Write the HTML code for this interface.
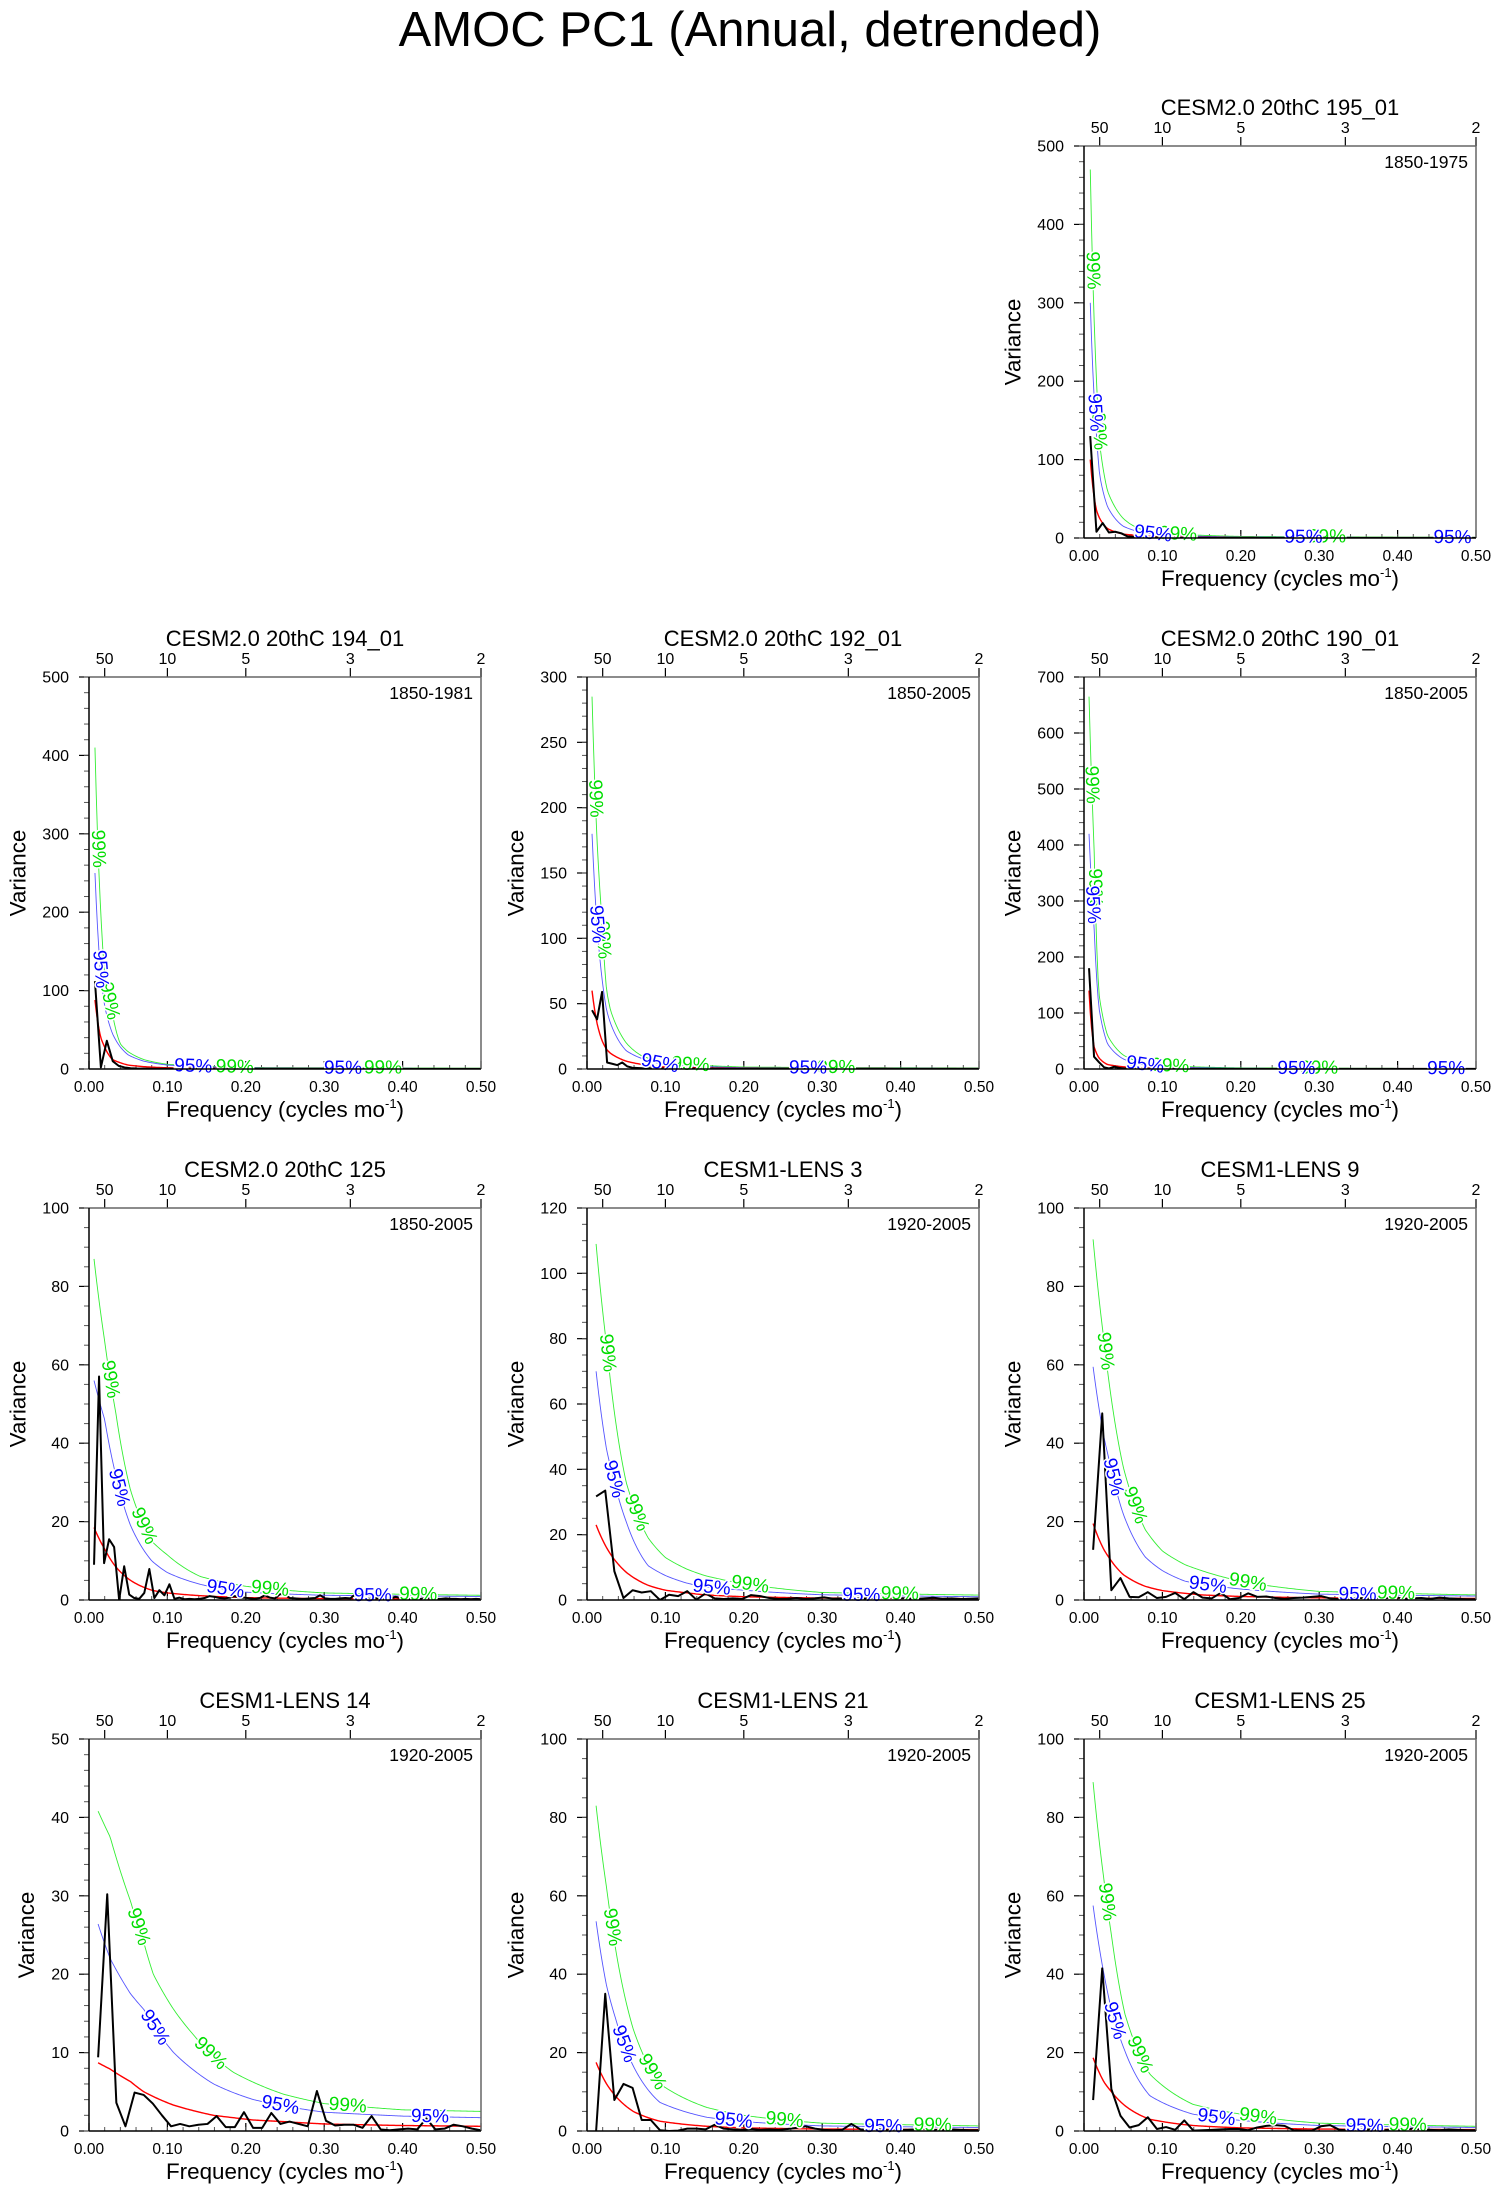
<!DOCTYPE html>
<html>
<head>
<meta charset="utf-8">
<style>
  html,body{margin:0;padding:0;background:#fff;}
  svg{display:block;font-family:"Liberation Sans",Arial,sans-serif;}
</style>
</head>
<body>
<svg id="fig" width="1500" height="2201" viewBox="0 0 1500 2201" xmlns="http://www.w3.org/2000/svg">
  <rect x="0" y="0" width="1500" height="2201" fill="#fff"/>
  <text x="750" y="46" font-size="49" text-anchor="middle" fill="#000">AMOC PC1 (Annual, detrended)</text>
</svg>
<script>
// ---------- data ----------
const p195_black = [130,8,19,7,8,6,2,1.5,1,1,0.8,0.6,0.5,0.5,0.4,0.4,0.3,0.3,0.3,0.3,0.3,0.2,0.2,0.2,0.2,0.2,0.2,0.2,0.2,0.2,0.2,0.2,0.2,0.2,0.2,0.2,0.2,0.2,0.2,0.2,0.2,0.2,0.2,0.2,0.2,0.2,0.2,0.2,0.2,0.2,0.2,0.2,0.2,0.2,0.2,0.2,0.2,0.2,0.2,0.2,0.2,0.2,0.2];
const p195_cf = [0.008,0.016,0.02,0.03,0.05,0.07,0.1,0.2,0.5];
const p195_red = [100,35,25,12,5,3,1.5,0.5,0.2];
const p195_c95 = [300,130,80,40,15,8,4,1.2,0.5];
const p195_c99 = [470,200,120,60,25,12,6,2,0.8];
const p195_lab95 = [0.014,0.088,0.28,0.47];
const p195_lab99 = [0.011,0.019,0.12,0.31];

const p194_black = [112,2,36,10,4,2,1,0.6,0.5,0.5,0.4,0.4,0.3,0.3,0.3,0.3,0.3,0.3,0.2,0.2,0.2,0.2,0.2,0.2,0.2,0.2,0.2,0.2,0.2,0.2,0.2,0.2,0.2,0.2,0.2,0.2,0.2,0.2,0.2,0.2,0.2,0.2,0.2,0.2,0.2,0.2,0.2,0.2,0.2,0.2,0.2,0.2,0.2,0.2,0.2,0.2,0.2,0.2,0.2,0.2,0.2,0.2,0.2,0.2,0.2,0.2];
const p194_cf = [0.0076,0.015,0.02,0.03,0.04,0.05,0.07,0.1,0.2,0.5];
const p194_red = [88,40,28,12,8,5,3,1.5,0.6,0.3];
const p194_c95 = [250,120,80,45,28,18,10,5,1.5,0.6];
const p194_c99 = [410,200,120,70,32,22,12,6,2,1];
const p194_lab95 = [0.0144,0.133,0.324];
const p194_lab99 = [0.0115,0.026,0.186,0.375];

const p192_black = [45,38,59,5,4,3,5,2,1,0.8,0.6,0.5,0.5,0.4,0.4,0.4,0.3,0.3,0.3,0.3,0.3,0.3,0.3,0.3,0.3,0.2,0.2,0.2,0.2,0.2,0.2,0.2,0.2,0.2,0.2,0.2,0.2,0.2,0.2,0.2,0.2,0.2,0.2,0.2,0.2,0.2,0.2,0.2,0.2,0.2,0.2,0.2,0.2,0.2,0.2,0.2,0.2,0.2,0.2,0.2,0.2,0.2,0.2,0.2,0.2,0.2,0.2,0.2,0.2,0.2,0.2,0.2,0.2,0.2,0.2,0.2,0.2,0.2];
const p192_cf = [0.0064,0.0128,0.019,0.025,0.03,0.05,0.07,0.1,0.2,0.5];
const p192_red = [60,35,22,15,12,6,3.5,1.5,0.5,0.2];
const p192_c95 = [180,110,70,45,35,14,8,3.5,1,0.4];
const p192_c99 = [285,175,115,60,45,20,10,5,1.5,0.7];
const p192_lab95 = [0.0127,0.093,0.282];
const p192_lab99 = [0.0106,0.0204,0.132,0.318];

const p190_black = [180,22,12,3,1,4,2,1,0.8,0.6,0.5,0.5,0.4,0.4,0.4,0.3,0.3,0.3,0.3,0.3,0.3,0.3,0.3,0.3,0.3,0.3,0.3,0.3,0.3,0.3,0.3,0.3,0.3,0.3,0.3,0.3,0.3,0.3,0.3,0.3,0.3,0.3,0.3,0.3,0.3,0.3,0.3,0.3,0.3,0.3,0.3,0.3,0.3,0.3,0.3,0.3,0.3,0.3,0.3,0.3,0.3,0.3,0.3,0.3,0.3,0.3,0.3,0.3,0.3,0.3,0.3,0.3,0.3,0.3,0.3,0.3,0.3,0.3];
const p190_cf = [0.0064,0.0128,0.019,0.03,0.05,0.07,0.1,0.2,0.5];
const p190_red = [140,40,20,8,4,2.5,1,0.4,0.2];
const p190_c95 = [420,255,110,45,18,9,4,1.2,0.5];
const p190_c99 = [665,400,135,60,25,13,6,2,0.8];
const p190_lab95 = [0.011,0.078,0.271,0.462];
const p190_lab99 = [0.0098,0.014,0.11,0.30];

const p125_black = [9,57,9.4,15.5,13.5,0,8.6,1.4,0.5,0.3,1.8,7.9,0.5,2.5,1.2,4,0.3,0.6,0.2,0.3,0.2,0.3,0.5,1,0.8,0.5,0.4,0.6,1,0.5,0.6,0.4,0.3,0.5,1.2,0.6,0.4,1.5,1.3,0.5,0.4,0.3,0.3,0.4,0.5,1.2,0.4,0.3,0.3,0.4,0.5,0.4,1.5,0.8,0.4,0.3,0.5,0.4,0.3,0.4,0.8,0.5,0.3,0.4,0.3,0.3,0.5,0.4,0.3,0.3,0.4,0.3,0.3,0.2,0.3,0.2,0.3,0.2];
const p125_cf = [0.0064,0.02,0.034,0.053,0.08,0.1,0.142,0.2,0.3,0.5];
const p125_red = [18.5,13,8.5,5,2.5,1.8,1.1,0.6,0.35,0.25];
const p125_c95 = [56,46,32,19,10,7,4,2,1.2,0.9];
const p125_c99 = [87,66,48,28,15,11.5,6,3.5,1.8,1.2];
const p125_lab95 = [0.038,0.174,0.362];
const p125_lab99 = [0.027,0.07,0.231,0.42];

const l3_black = [31.7,33.5,8.8,0.6,3,2.3,2.7,0,1.6,1.2,2.7,0.1,2,0.5,0.3,0.5,0.3,1.5,1.2,0.6,0.3,0.4,0.6,0.3,0.5,0.8,0.4,0.5,0.3,0.5,0.4,1.2,0.8,0.6,0.5,0.3,0.5,0.7,0.4,0.5,0.3,0.4,0.5];
const l3_cf = [0.0116,0.025,0.033,0.05,0.078,0.1,0.127,0.15,0.2,0.3,0.5];
const l3_red = [23,16,13,8.5,4.5,3,2.2,1.6,1,0.6,0.4];
const l3_c95 = [70,46,38,24,10.5,7.5,5.2,4,3,1.6,1];
const l3_c99 = [109,78,61,36,19,13,9.5,7.5,5,2.3,1.5];
const l3_lab95 = [0.034,0.159,0.35];
const l3_lab99 = [0.026,0.063,0.208,0.399];

const l9_black = [12.8,47.6,2.5,5.6,0.8,0.7,2,0.5,0.8,1.8,0.2,2,0.6,0.4,1.8,0.2,0.5,1.7,0.8,0.9,0.5,0.3,0.5,0.6,0.8,1,0.4,0.2,0.3,0.6,0.3,0.5,0.4,0.8,0.3,0.4,0.5,0.3,0.6,0.4,0.3,0.2,0.2];
const l9_cf = [0.0116,0.025,0.033,0.05,0.078,0.1,0.129,0.15,0.2,0.3,0.5];
const l9_red = [19.5,13,10.5,6.5,3.5,2.4,1.7,1.3,0.9,0.55,0.4];
const l9_c95 = [59.5,42,35,22,11,7.5,4.8,4,2.8,1.5,1];
const l9_c99 = [92,67,54,34,18,12.5,9,7.5,4.8,2.2,1.3];
const l9_lab95 = [0.037,0.158,0.349];
const l9_lab99 = [0.027,0.065,0.209,0.398];

const l14_black = [9.4,30.2,3.6,0.6,4.9,4.6,3.5,2,0.6,0.9,0.6,0.8,0.9,1.9,0.5,0.5,2.4,0.4,0.4,2.3,0.9,1.2,0.9,0.6,5.1,1.3,0.7,0.8,0.8,0.4,1.9,0.2,0.1,0.2,0.3,0.2,1.6,0.2,0.3,0.8,0.6,0.3,0.1];
const l14_cf = [0.0116,0.027,0.053,0.07,0.082,0.108,0.133,0.159,0.184,0.21,0.248,0.3,0.4,0.5];
const l14_red = [8.7,7.9,6.3,5,4.4,3.3,2.6,2,1.7,1.4,1.2,0.9,0.7,0.6];
const l14_c95 = [26.4,22,17.5,15.5,13.5,10,7.8,6,4.9,4,3.2,2.4,1.9,1.7];
const l14_c99 = [40.8,37.5,29.3,24,20,15.5,12.3,9.5,7.5,6.2,4.7,3.5,2.7,2.5];
const l14_lab95 = [0.084,0.244,0.435];
const l14_lab99 = [0.063,0.155,0.33];

const l21_black = [0,35,7.9,12,11,2.8,2.8,0.2,0,0.1,0.6,0.6,0.4,1.6,0.6,0.4,0.3,0.5,0.3,0.4,0.3,0.5,0.8,1.2,0.6,0.3,0.2,0.3,1.8,0.4,0.3,0.4,0.2,0.3,0.3,0.4,0.6,0.3,0.2,0.4,0.3,0.2,0.2];
const l21_cf = [0.0116,0.025,0.036,0.059,0.093,0.153,0.2,0.3,0.5];
const l21_red = [17.5,12,9,5,2.5,1.2,0.8,0.5,0.35];
const l21_c95 = [53.5,37,29,16.6,7.3,3.5,2.4,1.3,0.9];
const l21_c99 = [83,62,47,26,12,6,4,2,1.3];
const l21_lab95 = [0.047,0.187,0.378];
const l21_lab99 = [0.032,0.083,0.252,0.441];

const l25_black = [7.9,41.5,10.7,3.9,0.9,1.5,3.5,0.5,1,0.3,2.7,0.1,0.2,0.3,0.4,0.5,0.5,0.2,0.9,1.3,1.5,1.3,0.2,0.1,0.1,1.2,1.5,0.3,0.2,0.3,0.4,0.3,0.2,0.5,0.3,0.6,0.4,0.3,0.2,0.4,0.3,0.2,0.2];
const l25_cf = [0.0116,0.0255,0.035,0.052,0.084,0.139,0.2,0.3,0.5];
const l25_red = [18.7,12.5,10,6.5,3,1.4,0.8,0.5,0.35];
const l25_c95 = [57.5,40,31,20.5,9,4.3,2.7,1.4,0.9];
const l25_c99 = [89,64,50,30,14.5,6.8,4.3,2,1.2];
const l25_lab95 = [0.039,0.169,0.358];
const l25_lab99 = [0.029,0.071,0.222,0.413];

const xTickLabels = ["0.00","0.10","0.20","0.30","0.40","0.50"];
const periodTicks = [50,10,5,3,2];

// ---------- drawing ----------
const NS = "http://www.w3.org/2000/svg";
const svg = document.getElementById("fig");
function mk(tag, attrs, parent){
  const e = document.createElementNS(NS, tag);
  for (const k in attrs) e.setAttribute(k, attrs[k]);
  (parent||svg).appendChild(e);
  return e;
}
function interp(cf, vals, f){
  if (f <= cf[0]) return vals[0];
  for (let i=1;i<cf.length;i++){
    if (f <= cf[i]){
      const t=(f-cf[i-1])/(cf[i]-cf[i-1]);
      const a=Math.log(vals[i-1]), b=Math.log(vals[i]);
      return Math.exp(a+(b-a)*t);
    }
  }
  return vals[vals.length-1];
}
let clipId=0;
function panel(o){
  const L=o.left, T=o.top, W=392, H=392, R=L+W, B=T+H;
  const fx = f => L + f/0.5*W;
  const fy = v => B - v/o.ymax*H;
  const g = mk("g", {});
  
  

  const cid = "clip"+(clipId++);
  const cp = mk("clipPath", {id:cid}, g);
  mk("rect", {x:L, y:T, width:W, height:H}, cp);

  const t = mk("text", {x:L+W/2, y:T-31, "font-size":22, "text-anchor":"middle", fill:"#000"}, g);
  t.textContent = o.title;
  
  

  const yr = mk("text", {x:R-8, y:T+22, "font-size":17.5, "text-anchor":"end", fill:"#000"}, g);
  yr.textContent = o.years;
  
  

  for (let v=0; v<=o.ymax+1e-9; v+=o.ystep){
    const y=fy(v);
    mk("line",{x1:L-10,y1:y,x2:L,y2:y,stroke:"#000","stroke-width":1.2},g);
    const lt = mk("text",{x:L-20,y:y+5.5,"font-size":16,"text-anchor":"end",fill:"#000"},g);
    lt.textContent = String(Math.round(v));
    
    
  }
  for (let v=0; v<=o.ymax+1e-9; v+=o.yminor){
    const y=fy(v);
    mk("line",{x1:L-5,y1:y,x2:L,y2:y,stroke:"#555","stroke-width":1},g);
  }
  xTickLabels.forEach((s,i)=>{
    const x=fx(i*0.1);
    mk("line",{x1:x,y1:B,x2:x,y2:B-8,stroke:"#000","stroke-width":1.2},g);
    const lt = mk("text",{x:x,y:B+23,"font-size":15.5,"text-anchor":"middle",fill:"#000"},g);
    lt.textContent = s;
    
    
  });
  for (let k=1;k<25;k++){
    const x=fx(k*0.02);
    mk("line",{x1:x,y1:B,x2:x,y2:B-4,stroke:"#555","stroke-width":1},g);
  }
  periodTicks.forEach(p=>{
    const x=fx(1/p);
    mk("line",{x1:x,y1:T,x2:x,y2:T-9,stroke:"#000","stroke-width":1.2},g);
    const lt = mk("text",{x:x,y:T-13,"font-size":16,"text-anchor":"middle",fill:"#000"},g);
    lt.textContent = String(p);
    
    
  });

  const xt = mk("text",{x:L+W/2,y:B+48,"font-size":22.4,"text-anchor":"middle",fill:"#000"},g);
  xt.innerHTML = 'Frequency (cycles mo<tspan font-size="13" dy="-9">-1</tspan><tspan dy="9">)</tspan>';
  
  
  const digits = String(o.ymax).length;
  const yx = L - 21 - digits*8.9 - 16;
  const yt = mk("text",{x:yx,y:T+H/2,"font-size":22.4,"text-anchor":"middle",fill:"#000",transform:`rotate(-90 ${yx} ${T+H/2})`},g);
  yt.textContent = "Variance";
  
  

  const plot = mk("g",{"clip-path":`url(#${cid})`},g);
  function curve(vals, color, width, name){
    let d="";
    const f0=o.cf[0], f1=o.cf[o.cf.length-1];
    for (let i=0;i<=300;i++){
      const f=f0+(f1-f0)*i/300;
      d += (i?"L":"M")+fx(f).toFixed(2)+","+fy(interp(o.cf,vals,f)).toFixed(2);
    }
    const p = mk("path",{d:d,fill:"none",stroke:color,"stroke-width":width},plot);
    
    
  }
  curve(o.c99, "#33ee33", 0.9, "confidence-99-curve");
  curve(o.c95, "#5555ff", 0.9, "confidence-95-curve");
  curve(o.red, "#ff0000", 1.4, "red-noise-curve");

  let d="";
  o.black.forEach((v,i)=>{
    const f=(i+1)/o.n;
    d += (i?"L":"M")+fx(f).toFixed(2)+","+fy(v).toFixed(2);
  });
  const sp = mk("path",{d:d,fill:"none",stroke:"#000","stroke-width":2,"stroke-linejoin":"round"},plot);
  
  

  function labels(list, vals, color, text){
    list.forEach(f=>{
      const x=fx(f), y=fy(interp(o.cf,vals,f));
      const xa=fx(f-0.002), ya=fy(interp(o.cf,vals,f-0.002));
      const xb=fx(f+0.002), yb=fy(interp(o.cf,vals,f+0.002));
      let ang=Math.atan2(yb-ya, xb-xa)*180/Math.PI;
      if (ang>90) ang=90;
      const lt = mk("text",{x:x,y:y,"font-size":19,"text-anchor":"middle","dominant-baseline":"central",fill:color,stroke:"#fff","stroke-width":3,"paint-order":"stroke",transform:`rotate(${ang.toFixed(1)} ${x} ${y})`},g);
      lt.textContent = text;
      
      
    });
  }
  labels(o.lab99, o.c99, "#00dd00", "99%");
  labels(o.lab95, o.c95, "#0000ff", "95%");

  mk("line",{x1:L,y1:T,x2:R,y2:T,stroke:"#666","stroke-width":1.5},g);
  mk("line",{x1:R,y1:T,x2:R,y2:B,stroke:"#666","stroke-width":1.5},g);
  mk("line",{x1:L,y1:T,x2:L,y2:B,stroke:"#000","stroke-width":1.5},g);
  mk("line",{x1:L,y1:B,x2:R,y2:B,stroke:"#000","stroke-width":1.5},g);
}

const C=[89,587,1084], RW=[146,677,1208,1739];
panel({id:"p195",title:"CESM2.0 20thC 195_01",years:"1850-1975",left:C[2],top:RW[0],ymax:500,ystep:100,yminor:20,n:126,black:p195_black,cf:p195_cf,red:p195_red,c95:p195_c95,c99:p195_c99,lab95:p195_lab95,lab99:p195_lab99});
panel({id:"p194",title:"CESM2.0 20thC 194_01",years:"1850-1981",left:C[0],top:RW[1],ymax:500,ystep:100,yminor:20,n:132,black:p194_black,cf:p194_cf,red:p194_red,c95:p194_c95,c99:p194_c99,lab95:p194_lab95,lab99:p194_lab99});
panel({id:"p192",title:"CESM2.0 20thC 192_01",years:"1850-2005",left:C[1],top:RW[1],ymax:300,ystep:50,yminor:10,n:156,black:p192_black,cf:p192_cf,red:p192_red,c95:p192_c95,c99:p192_c99,lab95:p192_lab95,lab99:p192_lab99});
panel({id:"p190",title:"CESM2.0 20thC 190_01",years:"1850-2005",left:C[2],top:RW[1],ymax:700,ystep:100,yminor:20,n:156,black:p190_black,cf:p190_cf,red:p190_red,c95:p190_c95,c99:p190_c99,lab95:p190_lab95,lab99:p190_lab99});
panel({id:"p125",title:"CESM2.0 20thC 125",years:"1850-2005",left:C[0],top:RW[2],ymax:100,ystep:20,yminor:5,n:156,black:p125_black,cf:p125_cf,red:p125_red,c95:p125_c95,c99:p125_c99,lab95:p125_lab95,lab99:p125_lab99});
panel({id:"lens3",title:"CESM1-LENS 3",years:"1920-2005",left:C[1],top:RW[2],ymax:120,ystep:20,yminor:5,n:86,black:l3_black,cf:l3_cf,red:l3_red,c95:l3_c95,c99:l3_c99,lab95:l3_lab95,lab99:l3_lab99});
panel({id:"lens9",title:"CESM1-LENS 9",years:"1920-2005",left:C[2],top:RW[2],ymax:100,ystep:20,yminor:5,n:86,black:l9_black,cf:l9_cf,red:l9_red,c95:l9_c95,c99:l9_c99,lab95:l9_lab95,lab99:l9_lab99});
panel({id:"lens14",title:"CESM1-LENS 14",years:"1920-2005",left:C[0],top:RW[3],ymax:50,ystep:10,yminor:2,n:86,black:l14_black,cf:l14_cf,red:l14_red,c95:l14_c95,c99:l14_c99,lab95:l14_lab95,lab99:l14_lab99});
panel({id:"lens21",title:"CESM1-LENS 21",years:"1920-2005",left:C[1],top:RW[3],ymax:100,ystep:20,yminor:5,n:86,black:l21_black,cf:l21_cf,red:l21_red,c95:l21_c95,c99:l21_c99,lab95:l21_lab95,lab99:l21_lab99});
panel({id:"lens25",title:"CESM1-LENS 25",years:"1920-2005",left:C[2],top:RW[3],ymax:100,ystep:20,yminor:5,n:86,black:l25_black,cf:l25_cf,red:l25_red,c95:l25_c95,c99:l25_c99,lab95:l25_lab95,lab99:l25_lab99});
</script>
</body>
</html>
